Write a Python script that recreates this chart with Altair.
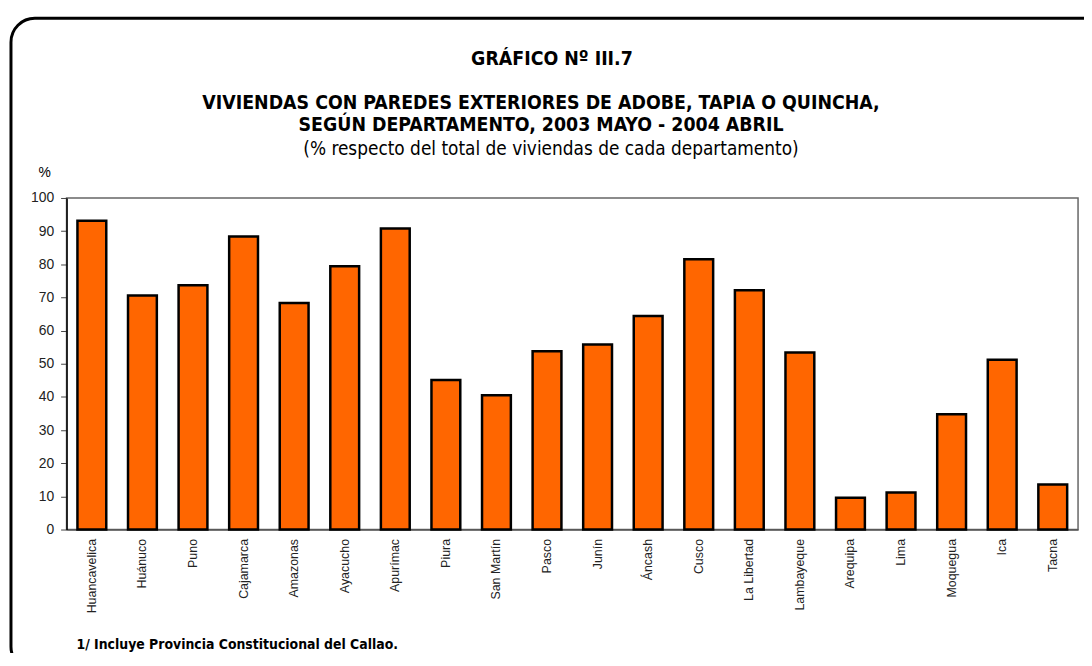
import altair as alt
import pandas as pd

departamentos = ["Huancavelica", "Huánuco", "Puno", "Cajamarca", "Amazonas", "Ayacucho",
                 "Apurímac", "Piura", "San Martín", "Pasco", "Junín", "Áncash", "Cusco",
                 "La Libertad", "Lambayeque", "Arequipa", "Lima", "Moquegua", "Ica", "Tacna"]
porcentajes = [93.1, 70.6, 73.7, 88.4, 68.3, 79.4, 90.8, 45.1, 40.5, 53.8, 55.8, 64.4, 81.5,
               72.2, 53.4, 9.6, 11.2, 34.8, 51.2, 13.6]

titulo = "GRÁFICO Nº III.7"
subtitulo1 = "VIVIENDAS CON PAREDES EXTERIORES DE ADOBE, TAPIA O QUINCHA,"
subtitulo2 = "SEGÚN DEPARTAMENTO, 2003 MAYO - 2004 ABRIL"
subtitulo3 = "(% respecto del total de viviendas de cada departamento)"
nota = "1/ Incluye Provincia Constitucional del Callao."

df = pd.DataFrame({"dep": departamentos, "val": porcentajes})
one = pd.DataFrame({"k": [0]})

NARROW = "DejaVu Sans Condensed, sans-serif"
SANS = "Liberation Sans, Arial, sans-serif"

bars = alt.Chart(df).mark_bar(color="#FF6600", stroke="#000000", strokeWidth=2.5).encode(
    x=alt.X("dep:N", sort=departamentos,
            scale=alt.Scale(paddingInner=0.43, paddingOuter=0.215),
            axis=alt.Axis(title=None, labelAngle=270, labelAlign="right", labelBaseline="middle",
                          labelFontSize=12.5, labelFont=SANS, labelColor="#222222", labelPadding=9,
                          ticks=False, domainColor="#555555", domainWidth=1.5)),
    y=alt.Y("val:Q", scale=alt.Scale(domain=[0, 100]),
            axis=alt.Axis(title=None, values=list(range(0, 101, 10)), labelFontSize=14,
                          labelFont=SANS, labelColor="#222222", tickSize=6, tickColor="#444444",
                          domainColor="#000000", domainWidth=1.5, grid=False, labelPadding=7)),
)

def txt(s, x, y, size, bold, align="center", font=NARROW):
    return alt.Chart(one).mark_text(text=s, fontSize=size, fontWeight="bold" if bold else "normal",
                                    font=font, align=align, baseline="middle", color="#000000").encode(
        x=alt.value(x), y=alt.value(y))

frame = alt.Chart(one).mark_rect(fill=None, stroke="#000000", strokeWidth=3, cornerRadius=24).encode(
    x=alt.value(-56), x2=alt.value(1080), y=alt.value(-181), y2=alt.value(476))

chart = alt.layer(
    frame,
    bars,
    txt(titulo, 489, -140, 19.5, True),
    txt(subtitulo1, 478, -96, 19.5, True),
    txt(subtitulo2, 478, -73, 19.5, True),
    txt(subtitulo3, 488, -49, 19, False),
    txt("%", -22, -25, 14, False, font=SANS),
    txt(nota, 10, 450, 14, True, align="left"),
).properties(
    width=1019, height=334,
    autosize=alt.AutoSizeParams(type="none"),
    padding={"left": 59, "top": 189, "right": 6, "bottom": 122},
).configure_view(stroke="#666666", strokeWidth=1.5)

chart.save("out.html", embed_options={"renderer": "svg", "actions": False})
